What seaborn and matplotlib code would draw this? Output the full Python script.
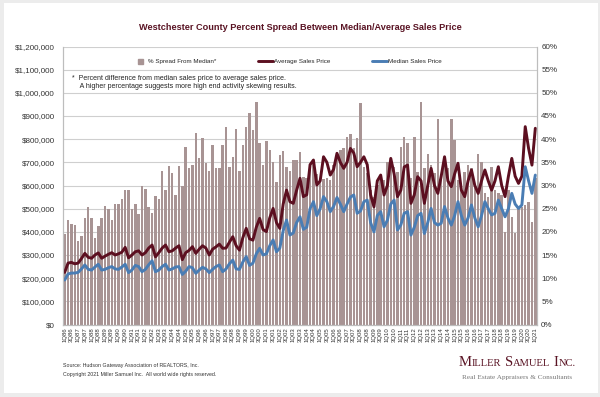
import numpy as np
import pandas as pd
import seaborn as sns
import matplotlib.pyplot as plt
from matplotlib.patches import Rectangle
from matplotlib.lines import Line2D
from matplotlib.ticker import FuncFormatter

# quarterly labels 1Q86 .. 1Q21
quarters = ['{}Q{:02d}'.format(q, y % 100) for y in range(1986, 2021) for q in (1, 2, 3, 4)] + ['1Q21']

# % spread from median (bars, right axis)
spread = [
    19.5, 22.5, 21.7, 21.5, 18.0, 19.0, 23.0, 25.3, 23.0, 18.7, 21.3, 23.0,
    25.6, 25.0, 22.5, 26.0, 26.0, 27.0, 29.0, 29.0, 25.0, 26.0, 23.8, 30.0,
    29.3, 25.4, 24.0, 27.7, 27.0, 33.2, 29.0, 34.2, 32.6, 28.0, 34.3, 30.0,
    38.3, 33.7, 34.4, 41.4, 35.9, 40.2, 34.9, 33.1, 38.7, 33.7, 33.7, 38.7,
    42.7, 34.1, 36.1, 42.1, 33.1, 38.7, 42.6, 45.7, 42.0, 48.1, 39.1, 34.4,
    39.6, 37.7, 35.1, 30.8, 36.6, 37.4, 34.1, 33.2, 35.5, 35.6, 37.3, 31.8,
    31.6, 34.1, 34.8, 32.5, 31.0, 31.5, 31.6, 31.2, 34.4, 36.2, 37.7, 38.1,
    40.5, 41.2, 38.1, 40.2, 47.7, 34.1, 32.8, 29.0, 27.6, 30.1, 31.5, 31.1,
    35.1, 34.9, 34.1, 33.0, 38.4, 40.5, 39.1, 31.7, 40.5, 33.0, 48.1, 33.7,
    36.9, 34.4, 32.6, 44.3, 31.6, 36.2, 33.7, 44.3, 39.8, 31.2, 29.0, 33.0,
    34.4, 33.7, 29.4, 36.9, 35.1, 28.3, 27.6, 34.1, 29.0, 28.3, 27.9, 20.0,
    29.0, 23.3, 19.7, 25.4, 25.4, 25.8, 26.5, 22.2, 31.6,
]

# average sales price, $k
avg_price = [
    225, 265, 268, 262, 265, 285, 307, 290, 286, 300, 309, 286,
    295, 303, 310, 300, 305, 312, 333, 288, 300, 314, 318, 300,
    310, 330, 343, 292, 310, 330, 343, 314, 318, 330, 340, 280,
    310, 320, 336, 307, 325, 340, 330, 300, 325, 335, 347, 329,
    330, 355, 379, 340, 321, 375, 415, 370, 364, 420, 458, 410,
    401, 460, 501, 440, 415, 520, 580, 530, 523, 580, 631, 552,
    560, 690, 710, 602, 620, 724, 700, 645, 670, 739, 700, 674,
    700, 760, 740, 681, 700, 724, 690, 560, 508, 620, 645, 559,
    600, 717, 650, 552, 580, 680, 688, 523, 560, 638, 620, 523,
    600, 674, 600, 566, 640, 724, 620, 595, 650, 696, 580, 552,
    620, 667, 600, 566, 620, 667, 620, 580, 620, 681, 600, 552,
    640, 717, 640, 609, 640, 854, 760, 688, 847,
]

# median sales price, $k
median_price = [
    192, 218, 222, 222, 225, 240, 257, 238, 235, 248, 260, 235,
    238, 245, 250, 240, 238, 248, 260, 224, 235, 255, 250, 228,
    238, 258, 275, 228, 235, 250, 260, 235, 240, 248, 250, 216,
    230, 250, 245, 221, 235, 247, 240, 224, 238, 250, 257, 228,
    240, 262, 278, 240, 238, 270, 293, 255, 265, 305, 329, 300,
    305, 340, 365, 314, 330, 405, 451, 386, 395, 440, 465, 411,
    420, 500, 530, 470, 500, 552, 530, 487, 510, 548, 520, 487,
    520, 550, 559, 480, 490, 530, 537, 440, 400, 470, 487, 422,
    450, 520, 537, 408, 430, 480, 487, 386, 420, 470, 480, 393,
    440, 501, 440, 429, 437, 509, 460, 429, 470, 530, 470, 429,
    460, 516, 460, 422, 470, 530, 500, 473, 480, 537, 500, 465,
    500, 566, 520, 501, 516, 681, 620, 566, 645,
]

df = pd.DataFrame({
    'quarter': quarters,
    'pos': np.arange(len(quarters)),
    'spread': spread,
    'avg': np.array(avg_price) * 1000,
    'median': np.array(median_price) * 1000,
})

BAR = '#a89494'
AVG = '#5c0f20'
MED = '#4a7db4'
TITLE = '#5a1424'
SERIF = ['Liberation Serif', 'DejaVu Serif']

sns.set_theme(style='white')
plt.rcParams['font.family'] = ['Liberation Sans', 'DejaVu Sans']

W, H = 600, 397
fig = plt.figure(figsize=(6, 3.97), dpi=100)
fig.patch.set_facecolor('#ececec')
fig.add_artist(Rectangle((4 / W, 4 / H), 594 / W, 390 / H, transform=fig.transFigure,
                         facecolor='white', edgecolor='none', zorder=0))

ax = fig.add_axes([63 / W, 1 - 324.5 / H, 474 / W, 278 / H])
ax.set_facecolor('none')
sns.barplot(data=df, x='quarter', y='spread', color=BAR, saturation=1, width=0.74,
            linewidth=0, ax=ax)
ax.set_ylim(0, 60)
ax.set_yticks(range(0, 61, 5))
ax.yaxis.set_major_formatter(FuncFormatter(lambda v, p: '{:.0f}%'.format(v)))
ax.grid(axis='y', color='#cfcfcf', lw=0.8)
ax.set_axisbelow(True)
ax.set_xlabel('')
ax.set_ylabel('')

ax2 = ax.twinx()
sns.lineplot(data=df, x='pos', y='avg', color=AVG, lw=2.1, ax=ax2, legend=False)
sns.lineplot(data=df, x='pos', y='median', color=MED, lw=2.1, ax=ax2, legend=False)
ax2.set_ylim(0, 1200000)
ax2.set_yticks(range(0, 1200001, 100000))
ax2.yaxis.set_major_formatter(FuncFormatter(lambda v, p: '${:,.0f}'.format(v)))
ax2.set_ylabel('')
ax2.set_xlabel('')
ax.set_xlim(-0.5, len(quarters) - 0.5)

# percent on the right, dollars on the left
ax.yaxis.tick_right()
ax2.yaxis.tick_left()

ax.set_xticks(range(0, len(quarters), 2))
ax.set_xticklabels(quarters[::2], rotation=90, fontsize=4.3, color='#333333')
ax.tick_params(axis='x', length=0, pad=2)
ax.tick_params(axis='y', labelsize=5.8, colors='#333333', length=0, pad=3)
ax2.tick_params(axis='y', labelsize=5.8, colors='#333333', length=0, pad=6)

for a in (ax, ax2):
    for s in a.spines.values():
        s.set_color('#bdbdbd')
        s.set_linewidth(0.8)
    a.spines['top'].set_visible(False)

fig.text(0.5, 1 - 27 / H, 'Westchester County Percent Spread Between Median/Average Sales Price',
         ha='center', va='center', fontsize=6.6, fontweight='bold', color=TITLE)

handles = [Line2D([], [], marker='s', color=BAR, linestyle='none', markersize=3.6),
           Line2D([], [], color=AVG, lw=2.1),
           Line2D([], [], color=MED, lw=2.1)]
fig.legend(handles, ['% Spread From Median*', 'Average Sales Price', 'Median Sales Price'],
           loc='center left', bbox_to_anchor=(132 / W, 1 - 61 / H), ncol=3, frameon=False,
           fontsize=4.5, handlelength=2.4, handletextpad=0.2,
           columnspacing=6.6, borderpad=0, borderaxespad=0)

fig.text(72.5 / W, 1 - 82 / H,
         '*  Percent difference from median sales price to average sales price.\n'
         '    A higher percentage suggests more high end activity skewing results.',
         ha='left', va='center', fontsize=5.0, color='#222222', linespacing=1.2)

fig.text(63 / W, 1 - 365 / H, 'Source: Hudson Gateway Association of REALTORS, Inc.',
         ha='left', va='center', fontsize=3.8, color='#333333')
fig.text(63 / W, 1 - 374.5 / H, 'Copyright 2021 Miller Samuel Inc.  All world wide rights reserved.',
         ha='left', va='center', fontsize=3.8, color='#333333')

# logo in small caps: big initial + smaller capitals, laid out piece by piece
fig.canvas.draw()
renderer = fig.canvas.get_renderer()
pieces = [('M', 10.5), ('ILLER', 7.6), (None, 0), ('S', 10.5), ('AMUEL', 7.6), (None, 0),
          ('I', 10.5), ('NC.', 7.6)]
texts = []
for s, size in pieces:
    if s is None:
        texts.append(None)
        continue
    t = fig.text(0, 1 - 366 / H, s, ha='left', va='baseline', fontsize=size,
                 color=TITLE, family=SERIF)
    texts.append(t)
widths = [t.get_window_extent(renderer).width if t is not None else 3.5 for t in texts]
x = 517 - sum(widths) / 2
for t, w in zip(texts, widths):
    if t is not None:
        t.set_x(x / W)
    x += w
fig.text(517 / W, 1 - 378 / H, 'Real Estate Appraisers & Consultants', ha='center', va='center',
         fontsize=5.2, color='#777777', family=SERIF)

fig.savefig('out.png', dpi=100, facecolor=fig.get_facecolor())
